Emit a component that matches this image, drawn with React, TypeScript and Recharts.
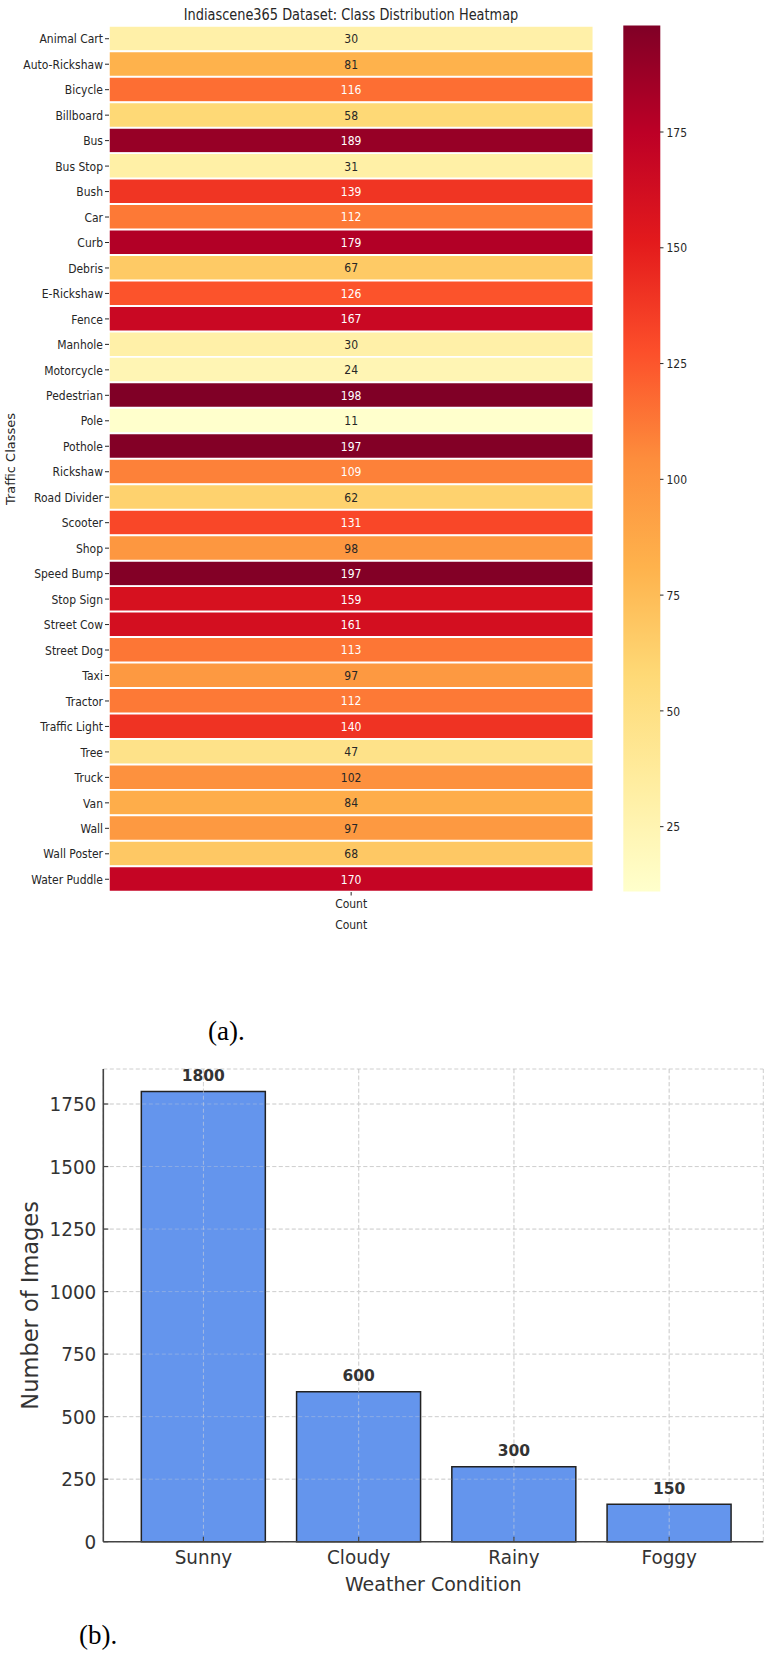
import React from 'react';
import { BarChart, Bar, XAxis, YAxis, Cell, LabelList, CartesianGrid, ReferenceLine } from 'recharts';

// ---------- data ----------
const classNames = [
  'Animal Cart', 'Auto-Rickshaw', 'Bicycle', 'Billboard', 'Bus', 'Bus Stop', 'Bush', 'Car', 'Curb',
  'Debris', 'E-Rickshaw', 'Fence', 'Manhole', 'Motorcycle', 'Pedestrian', 'Pole', 'Pothole',
  'Rickshaw', 'Road Divider', 'Scooter', 'Shop', 'Speed Bump', 'Stop Sign', 'Street Cow',
  'Street Dog', 'Taxi', 'Tractor', 'Traffic Light', 'Tree', 'Truck', 'Van', 'Wall', 'Wall Poster',
  'Water Puddle',
];
const classCounts = [
  30, 81, 116, 58, 189, 31, 139, 112, 179, 67, 126, 167, 30, 24, 198, 11, 197, 109, 62, 131, 98,
  197, 159, 161, 113, 97, 112, 140, 47, 102, 84, 97, 68, 170,
];
const colorbarTicks = [25, 50, 75, 100, 125, 150, 175];

const weatherConditions = ['Sunny', 'Cloudy', 'Rainy', 'Foggy'];
const imageCounts = [1800, 600, 300, 150];
const imageTicks = [0, 250, 500, 750, 1000, 1250, 1500, 1750];

// ---------- colormap (matplotlib YlOrRd) ----------
const YLORRD = [
  [255, 255, 204], [255, 237, 160], [254, 217, 118], [254, 178, 76], [253, 141, 60],
  [252, 78, 42], [227, 26, 28], [189, 0, 38], [128, 0, 38],
];
const VMIN = Math.min(...classCounts);
const VMAX = Math.max(...classCounts);

function cmapRGB(v: number): number[] {
  let t = (v - VMIN) / (VMAX - VMIN);
  t = Math.max(0, Math.min(1, t));
  const p = t * 8;
  const i = Math.min(7, Math.floor(p));
  const f = p - i;
  const a = YLORRD[i];
  const b = YLORRD[i + 1];
  return [0, 1, 2].map((k) => a[k] + (b[k] - a[k]) * f);
}
function cmap(v: number): string {
  const c = cmapRGB(v);
  return `rgb(${Math.round(c[0])},${Math.round(c[1])},${Math.round(c[2])})`;
}
function textColor(v: number): string {
  const c = cmapRGB(v).map((x) => x / 255).map((x) => (x <= 0.03928 ? x / 12.92 : Math.pow((x + 0.055) / 1.055, 2.4)));
  const lum = 0.2126 * c[0] + 0.7152 * c[1] + 0.0722 * c[2];
  return lum > 0.408 ? '#262626' : '#ffffff';
}

const FONT = 'DejaVu Sans';
const DARK = '#262626';
const HEAT_SX = 0.83;
const HEAT_FS = 13;

const heatData = classNames.map((name, i) => ({ name, count: classCounts[i], cell: 1 }));
const colorbarData = [{ name: 'cbar', range: [VMIN, VMAX] }];
const weatherData = weatherConditions.map((w, i) => ({ weather: w, images: imageCounts[i] }));

// horizontally condensed text (the reference glyphs are narrow)
const SText = (p: any) => {
  const { x, y, sx, anchor, dy, size, fill, weight, children } = p;
  return (
    <text transform={`translate(${x},${y}) scale(${sx},1)`} x={0} y={0} dy={dy}
      textAnchor={anchor} fontSize={size} fontFamily={FONT} fill={fill} fontWeight={weight || 'normal'}>
      {children}
    </text>
  );
};

const HeatLabel = (props: any) => {
  const { x, y, width, height, value } = props;
  return (
    <SText x={x + width / 2} y={y + height / 2} dy="0.36em" anchor="middle" sx={HEAT_SX}
      size={HEAT_FS} fill={textColor(Number(value))}>
      {value}
    </SText>
  );
};

const HeatYTick = (props: any) => {
  const { x, y, payload } = props;
  return (
    <SText x={x} y={y} dy="0.36em" anchor="end" sx={HEAT_SX} size={HEAT_FS} fill={DARK}>
      {payload.value}
    </SText>
  );
};

const HeatXTick = (props: any) => {
  const { x, y } = props;
  return (
    <g>
      <SText x={x} y={y} dy="0.73em" anchor="middle" sx={HEAT_SX} size={HEAT_FS} fill={DARK}>
        Count
      </SText>
      <SText x={x} y={y + 21} dy="0.73em" anchor="middle" sx={HEAT_SX} size={HEAT_FS} fill={DARK}>
        Count
      </SText>
    </g>
  );
};

const CbarTick = (props: any) => {
  const { x, y, payload } = props;
  return (
    <SText x={x} y={y} dy="0.36em" anchor="start" sx={HEAT_SX} size={HEAT_FS} fill={DARK}>
      {payload.value}
    </SText>
  );
};

const BarValueLabel = (props: any) => {
  const { x, y, width, value } = props;
  return (
    <text x={x + width / 2} y={y - 10.5} textAnchor="middle" fontSize={15.5}
      fontWeight="bold" fontFamily={FONT} fill="#333">
      {value}
    </text>
  );
};

const Y_MARGIN = 7;
const BAR_SX = 0.92;
const BAR_FS = 20;
const YTick = (props: any) => {
  const { x, y, payload } = props;
  const ax = x + Y_MARGIN;
  return (
    <g>
      <line x1={ax} x2={ax + 5} y1={y} y2={y} stroke="#444" strokeWidth={1.2} />
      <SText x={x} y={y} dy="0.36em" anchor="end" sx={BAR_SX} size={BAR_FS} fill="#333">
        {payload.value}
      </SText>
    </g>
  );
};

const X_MARGIN = 8;
const XTick = (props: any) => {
  const { x, y, payload } = props;
  const ay = y - X_MARGIN;
  return (
    <g>
      <line x1={x} x2={x} y1={ay} y2={ay - 5} stroke="#444" strokeWidth={1.2} />
      <SText x={x} y={y} dy="0.73em" anchor="middle" sx={BAR_SX} size={BAR_FS} fill="#333">
        {payload.value}
      </SText>
    </g>
  );
};

export default function App() {
  return (
    <div style={{ position: 'absolute', left: 0, top: 0, width: 768, height: 1653, background: '#fff' }}>
      {/* Heatmap */}
      <div style={{ position: 'absolute', left: 0, top: 0 }}>
        <BarChart width={768} height={950} layout="vertical" data={heatData}
          margin={{ top: 26, right: 174.7, bottom: 18, left: 0 }} barCategoryGap={0} barGap={0}>
          <XAxis type="number" dataKey="cell" domain={[0, 1]} ticks={[0.5]}
            axisLine={false} tickLine={{ stroke: DARK }} tickSize={3.5} tickMargin={3} height={40}
            tick={HeatXTick} />
          <YAxis type="category" dataKey="name" width={109} interval={0} axisLine={false}
            tickLine={{ stroke: DARK }} tickSize={4} tickMargin={2}
            tick={HeatYTick}
            label={{ value: 'Traffic Classes', angle: -90, position: 'insideLeft', offset: 10.5, fontSize: 13, fill: DARK, fontFamily: FONT, style: { textAnchor: 'middle' } }} />
          <Bar dataKey="cell" stroke="#ffffff" strokeWidth={1.5} isAnimationActive={false}>
            {heatData.map((d, i) => (
              <Cell key={i} fill={cmap(d.count)} />
            ))}
            <LabelList dataKey="count" content={HeatLabel} />
          </Bar>
        </BarChart>
      </div>

      {/* Colorbar */}
      <div style={{ position: 'absolute', left: 0, top: 0 }}>
        <BarChart width={768} height={950} data={colorbarData}
          margin={{ top: 25.5, right: 48, bottom: 58.5, left: 623.3 }} barCategoryGap={0}>
          <defs>
            <linearGradient id="ylorrd" x1="0" y1="1" x2="0" y2="0">
              {YLORRD.map((c, i) => (
                <stop key={i} offset={i / 8} stopColor={`rgb(${c[0]},${c[1]},${c[2]})`} />
              ))}
            </linearGradient>
          </defs>
          <XAxis dataKey="name" hide />
          <YAxis type="number" orientation="right" domain={[VMIN, VMAX]} ticks={colorbarTicks}
            width={60} axisLine={false} tickLine={{ stroke: DARK }} tickSize={3.5} tickMargin={3}
            tick={CbarTick} />
          <Bar dataKey="range" fill="url(#ylorrd)" isAnimationActive={false} />
        </BarChart>
      </div>

      {/* Weather bar chart */}
      <div style={{ position: 'absolute', left: 0, top: 1040 }}>
        <BarChart width={768} height={613} data={weatherData}
          margin={{ top: 29, right: 4.7, bottom: 51.3, left: 0 }} barCategoryGap="10%">
          <CartesianGrid strokeDasharray="4 2.5" stroke="#bdbdbd" strokeOpacity={0.75} />
          <XAxis dataKey="weather" padding={{ left: 22.5, right: 16.5 }} height={60}
            axisLine={{ stroke: '#444', strokeWidth: 1.6 }} tickLine={false} tickSize={0}
            tickMargin={X_MARGIN} tick={XTick} interval={0}
            label={{ value: 'Weather Condition', position: 'insideBottom', offset: 11, fontSize: 19, fill: '#333', fontFamily: FONT }} />
          <YAxis type="number" domain={[0, 1890]} ticks={imageTicks} width={103.3}
            axisLine={{ stroke: '#444', strokeWidth: 1.6 }} tickLine={false} tickSize={0}
            tickMargin={Y_MARGIN} tick={YTick}
            label={{ value: 'Number of Images', angle: -90, position: 'insideLeft', offset: 30, fontSize: 22.5, fill: '#333', fontFamily: FONT, style: { textAnchor: 'middle' } }} />
          <Bar dataKey="images" fill="#6495ED" stroke="#222" strokeWidth={1.5} isAnimationActive={false}>
            <LabelList dataKey="images" position="top" content={BarValueLabel} />
          </Bar>
          {weatherConditions.map((w) => (
            <ReferenceLine key={w} x={w} stroke="#d8d8d8" strokeOpacity={0.55} strokeDasharray="4 2.5" />
          ))}
          {imageTicks.filter((t) => t > 0).map((t) => (
            <ReferenceLine key={t} y={t} stroke="#d8d8d8" strokeOpacity={0.35} strokeDasharray="4 2.5" />
          ))}
        </BarChart>
      </div>

      {/* Titles and captions */}
      <svg width={768} height={1653} style={{ position: 'absolute', left: 0, top: 0, pointerEvents: 'none' }}>
        <text transform="translate(351,19.5) scale(0.835,1)" textAnchor="middle" fontSize={15.5} fontFamily={FONT} fill={DARK}>
          Indiascene365 Dataset: Class Distribution Heatmap
        </text>
        <text x={208} y={1040} fontSize={27} fontFamily="Liberation Serif" fill="#000">(a).</text>
        <text x={79} y={1644} fontSize={27} fontFamily="Liberation Serif" fill="#000">(b).</text>
      </svg>
    </div>
  );
}
